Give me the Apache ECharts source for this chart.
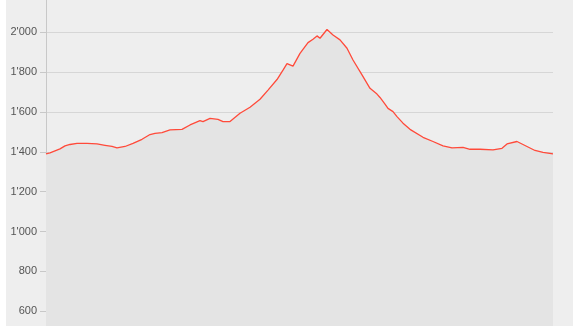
<!DOCTYPE html>
<html>
<head>
<meta charset="utf-8">
<script src="https://cdn.jsdelivr.net/npm/echarts@6/dist/echarts.min.js"></script>
<style>
html,body{margin:0;padding:0;background:#ffffff;overflow:hidden;}
#chart{position:absolute;left:6px;top:-40px;width:567px;height:420px;background:#eeeeee;}
</style>
</head>
<body>
<div id="chart"></div>
<script>
// distance (km) along the route
const distances = [0,0.4,0.9,1.4,1.9,2.4,3.1,4.1,5.1,5.9,6.6,7.1,7.9,8.7,9.6,10.4,10.9,11.6,12.4,13.0,13.6,14.4,15.4,15.7,16.4,17.2,17.7,18.4,19.4,20.4,21.4,22.2,23.1,23.7,24.1,24.7,25.4,26.2,26.7,27.1,27.4,28.1,28.7,29.4,30.1,30.7,31.6,32.4,33.1,33.4,33.9,34.2,34.7,35.1,35.7,36.4,37.7,38.7,39.7,40.6,41.7,42.4,43.4,44.7,45.6,46.1,47.1,48.1,48.9,49.7,50.7];
// elevation (m)
const elevations = [1390,1395,1405,1415,1430,1437,1443,1443,1440,1433,1427,1420,1427,1443,1463,1487,1493,1497,1510,1512,1513,1535,1557,1552,1568,1563,1552,1552,1594,1624,1664,1710,1763,1810,1843,1830,1894,1948,1965,1982,1970,2014,1986,1962,1920,1861,1786,1719,1690,1673,1640,1618,1602,1577,1544,1513,1473,1452,1430,1420,1423,1413,1413,1410,1418,1440,1452,1427,1407,1397,1390];
// y axis range and tick step (m)
const yMin = 400, yMax = 2200, yStep = 200;

const chart = echarts.init(document.getElementById('chart'), null, {renderer:'canvas'});
const data = distances.map((d,i)=>[d, elevations[i]]);
chart.setOption({
  animation:false,
  backgroundColor:'#eeeeee',
  grid:{left:40, right:20, top:32.44, bottom:28.86, containLabel:false},
  xAxis:{type:'value', min:0, max:50.7, show:false},
  yAxis:{
    type:'value', min:yMin, max:yMax, interval:yStep,
    axisLine:{show:true, lineStyle:{color:'#c8c8c8', width:1}},
    axisTick:{show:true, length:6, lineStyle:{color:'#c8c8c8'}},
    splitLine:{show:true, lineStyle:{color:'#d6d6d6', width:1}},
    axisLabel:{
      color:'#555555', fontSize:11, fontFamily:'Liberation Sans, Arial, sans-serif', margin:9,
      formatter:function(v){
        return String(v).replace(/\B(?=(\d{3})+(?!\d))/g,"'");
      }
    }
  },
  series:[{
    type:'line', data:data, showSymbol:false, smooth:false,
    lineStyle:{color:'#ff4a3a', width:1.3},
    areaStyle:{color:'#e4e4e4', opacity:1, origin:'start'},
    itemStyle:{color:'#ff4a3a'}
  }]
});
</script>
</body>
</html>
